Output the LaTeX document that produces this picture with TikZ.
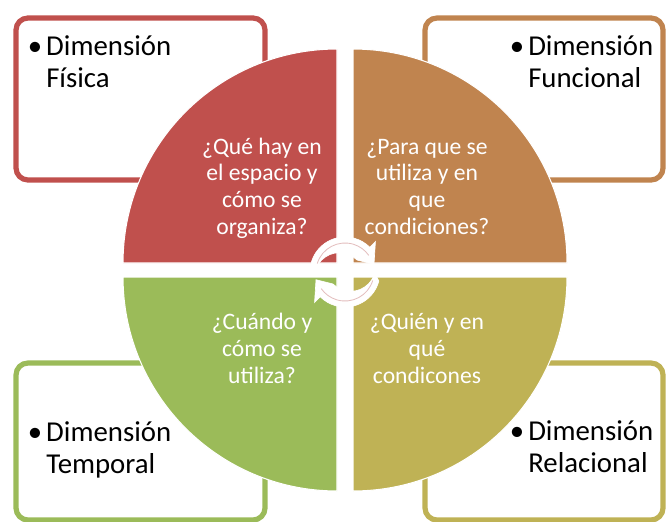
\documentclass[tikz,border=0pt]{standalone}
\usepackage{fontspec}
\setmainfont{Carlito}
\definecolor{qred}{HTML}{C0504D}
\definecolor{qorange}{HTML}{C0844F}
\definecolor{qolive}{HTML}{BFB255}
\definecolor{qgreen}{HTML}{9BBB59}
\definecolor{arrowpink}{HTML}{E3BDBD}
\begin{document}
\begin{tikzpicture}[x=0.75pt,y=-0.75pt,
    dimbox/.style={line width=3.9pt,rounded corners=9pt},
    dimtext/.style={anchor=base west,inner sep=0pt,align=left,font=\fontsize{21.6}{24}\selectfont},
    quadtext/.style={anchor=base,inner sep=0pt,align=center,text=white,font=\fontsize{17.7}{20}\selectfont},
    cyclearrow/.style={fill=white,draw=white,line width=0.5pt}]
    \useasboundingbox (0,0) rectangle (666,521);

    % Boxes
    \draw[dimbox,qred] (16,18) rectangle (265,180);
    \draw[dimbox,qorange] (425,18) rectangle (663,180);
    \draw[dimbox,qgreen] (16,363) rectangle (265,520);
    \draw[dimbox,qolive] (425,363) rectangle (663,520);

    % Quadrants
    \foreach \col/\cx/\cy/\a in {qred/337/263/180,qorange/353/263/270,qolive/353/277/0,qgreen/337/277/90}
        \filldraw[\col,draw=white,line width=0.8pt] (\cx,\cy) -- ++(\a:214) arc[start angle=\a,delta angle=90,radius=214] -- cycle;

    % Labels for boxes (anchored at the last line)
    \node[dimtext] (fisica) at (46,87) {\llap{\textbullet\kern3pt}Dimensión\\Física};
    \node[dimtext] (funcional) at (528,87) {\llap{\textbullet\kern3pt}Dimensión\\Funcional};
    \node[dimtext] (temporal) at (46,473) {\llap{\textbullet\kern3pt}Dimensión\\Temporal};
    \node[dimtext] (relacional) at (528,472) {\llap{\textbullet\kern3pt}Dimensión\\Relacional};

    % Questions
    \node[quadtext] (qfisica) at (262,234) {¿Qué hay en\\el espacio y\\cómo se\\organiza?};
    \node[quadtext] (qfuncional) at (427,234) {¿Para que se\\utiliza y en\\que\\condiciones?};
    \node[quadtext] (qtemporal) at (262,383) {¿Cuándo y\\cómo se\\utiliza?};
    \node[quadtext] (qrelacional) at (427,383) {¿Quién y en\\qué\\condicones};

    % Cycle arrows
    \coordinate (ccycle) at (345,272);
    \filldraw[cyclearrow] ([shift={(195:35)}]ccycle) arc[start angle=195,end angle=315,radius=35]
        -- ([shift={(315:43)}]ccycle) -- ([shift={(345:30)}]ccycle) -- ([shift={(315:17)}]ccycle)
        arc[start angle=315,end angle=195,radius=25] -- cycle;
    \filldraw[cyclearrow] ([shift={(15:35)}]ccycle) arc[start angle=15,end angle=135,radius=35]
        -- ([shift={(135:43)}]ccycle) -- ([shift={(165:30)}]ccycle) -- ([shift={(135:17)}]ccycle)
        arc[start angle=135,end angle=15,radius=25] -- cycle;
    \draw[arrowpink,line width=0.6pt] ([shift={(197:29)}]ccycle) arc[start angle=197,end angle=325,radius=29];
    \draw[arrowpink,line width=0.6pt] ([shift={(17:29)}]ccycle) arc[start angle=17,end angle=145,radius=29];
\end{tikzpicture}
\end{document}
